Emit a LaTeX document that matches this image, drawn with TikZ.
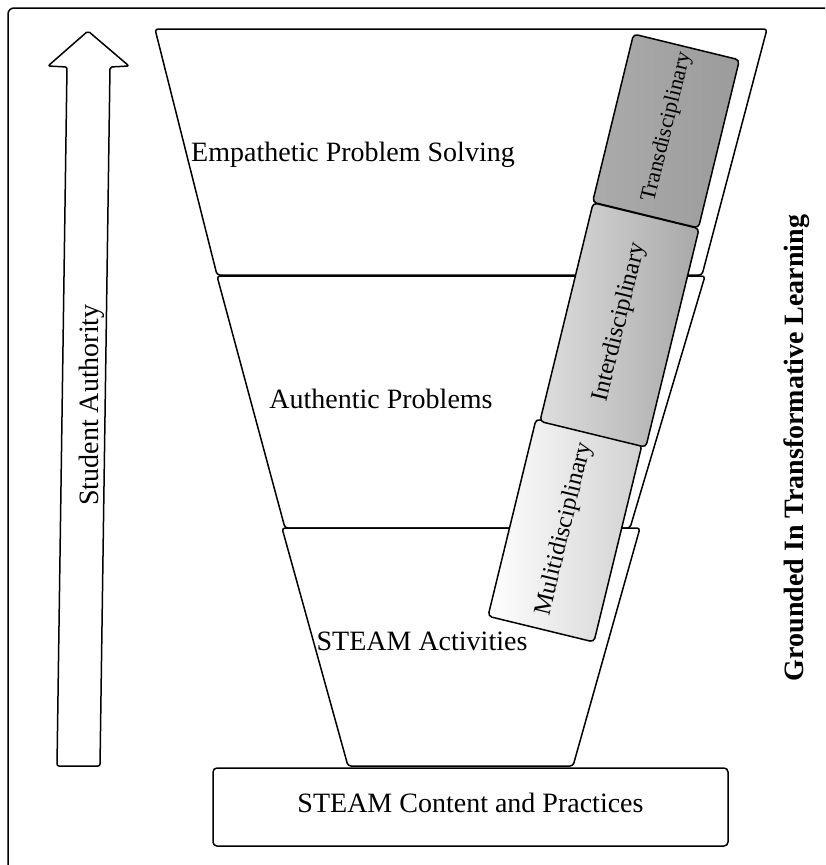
\documentclass[tikz,border=0pt]{standalone}
\usepackage{fontspec}
\setmainfont{Liberation Serif}
\definecolor{transtop}{gray}{0.61}
\definecolor{transbot}{gray}{0.67}
\definecolor{intertop}{gray}{0.66}
\definecolor{interbot}{gray}{0.87}
\definecolor{multitop}{gray}{0.82}
\definecolor{multibot}{gray}{1.0}
\begin{document}
\begin{tikzpicture}[x=1pt,y=1pt,
  outline/.style={draw=black, line width=1.5pt, line join=round},
  layer/.style={outline, fill=white, rounded corners=3pt},
  discbox/.style={outline, rounded corners=4pt, rotate=76.3, minimum height=109pt, inner sep=0pt},
  disctext/.style={rotate=76.3, inner sep=0pt},
  lbl/.style={font=\fontsize{28}{30}\selectfont, inner sep=0pt, anchor=base},
]
\useasboundingbox (0,0) rectangle (825,-865);
\begin{scope}
  \clip (0,0) rectangle (825,-865);
  \draw[outline, rounded corners=6pt] (8,-8) rectangle (900,-950);
\end{scope}
% student authority arrow
\draw[outline, rounded corners=2pt] (88,-31) -- (129,-66) -- (110,-67) -- (100,-766) -- (57,-766) -- (67,-67) -- (48,-66) -- cycle;
\node[lbl, rotate=90] (auth) at (98,-405) {Student Authority};
% funnel layers
\draw[layer] (155,-29) -- (767,-29) -- (702,-275) -- (217,-275) -- cycle;
\draw[layer] (217,-276) -- (705,-276) -- (630,-528) -- (285,-528) -- cycle;
\draw[layer] (282,-528) -- (640,-528) -- (573,-766) -- (348,-766) -- cycle;
\node[lbl] (eps) at (353,-161) {Empathetic Problem Solving};
\node[lbl] (ap) at (381,-408) {Authentic Problems};
\node[lbl] (sa) at (422,-650) {STEAM Activities};
% base
\node[outline, rounded corners=4pt, minimum width=515pt, minimum height=78pt, inner sep=0pt] (base) at (470.5,-807) {};
\node[lbl] (basetxt) at (470.5,-812) {STEAM Content and Practices};
% disciplinary boxes
\node[discbox, minimum width=203pt, left color=multibot, right color=multitop] (multi) at (565,-530.5) {};
\node[discbox, minimum width=225pt, left color=interbot, right color=intertop] (inter) at (619.5,-325) {};
\node[discbox, minimum width=173pt, left color=transbot, right color=transtop] (trans) at (666,-131) {};
\node[disctext, font=\fontsize{24.5}{26}\selectfont] (multitxt) at (564.5,-529) {Mulitidisciplinary};
\node[disctext, font=\fontsize{24.5}{26}\selectfont] (intertxt) at (620,-322) {Interdisciplinary};
\node[disctext, font=\fontsize{22}{24}\selectfont] (transtxt) at (667,-127) {Transdisciplinary};
% side label
\node[lbl, rotate=90, font=\fontsize{28}{30}\selectfont\bfseries] (gtl) at (803,-448) {Grounded In Transformative Learning};
\end{tikzpicture}
\end{document}
